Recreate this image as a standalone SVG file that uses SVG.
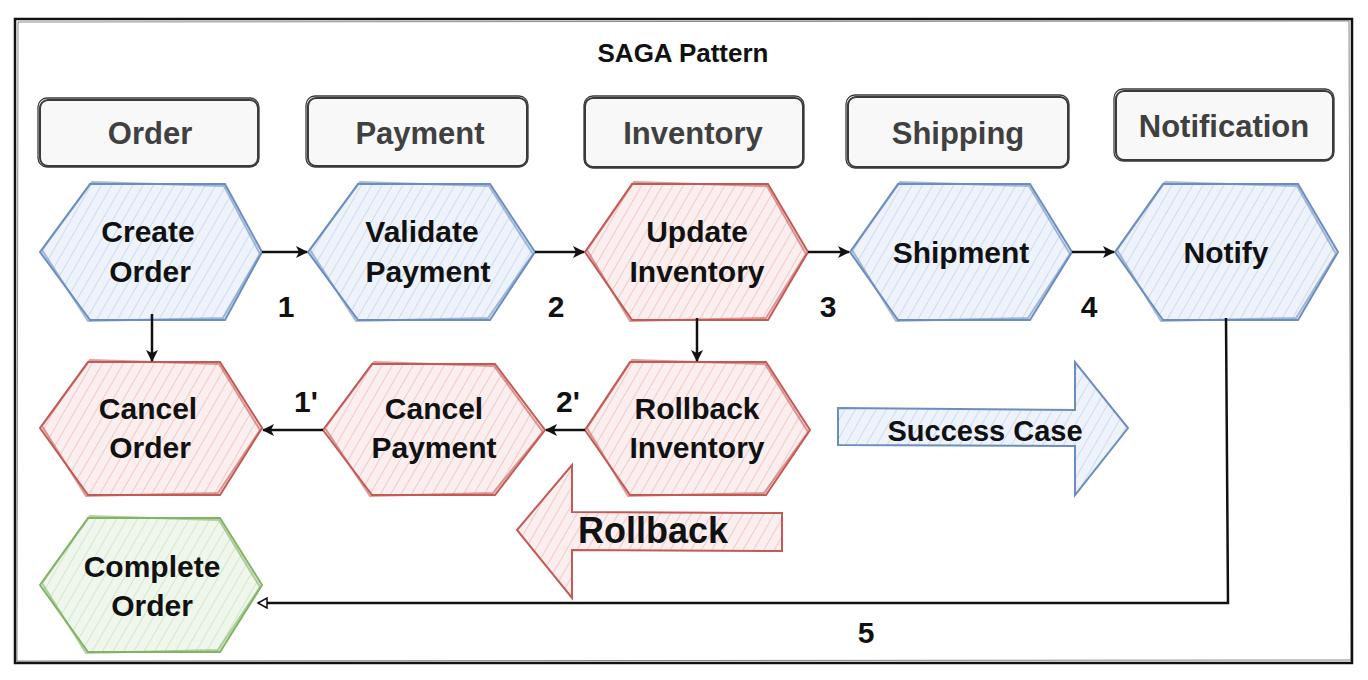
<svg xmlns="http://www.w3.org/2000/svg" width="1368" height="680" viewBox="0 0 1368 680">
<style>
.hdr rect{fill:#f8f8f8;stroke:#3a3a3a;stroke-width:2}
.hdr rect.s{fill:none;stroke-width:1.3}
.ht{font-family:"Liberation Sans",Arial,sans-serif;font-size:31px;font-weight:bold;fill:#404040;text-anchor:middle}
.nt{font-family:"Liberation Sans",Arial,sans-serif;font-size:30px;font-weight:bold;fill:#111;text-anchor:middle}
.lb{font-family:"Liberation Sans",Arial,sans-serif;font-size:30px;font-weight:bold;fill:#111;text-anchor:middle}
.blue .b{fill:#eef3fb}.blue .h{fill:url(#hb)}.blue .o{fill:none;stroke:#6c8ebf;stroke-width:2}
.red .b{fill:#fbeeee}.red .h{fill:url(#hr)}.red .o{fill:none;stroke:#c45a56;stroke-width:2}
.green .b{fill:#eff6ec}.green .h{fill:url(#hg)}.green .o{fill:none;stroke:#82b366;stroke-width:2}
.o2{opacity:0.6}
.ln{fill:none;stroke:#111;stroke-width:2.5}
</style>
<defs>
<pattern id="hb" patternUnits="userSpaceOnUse" width="9" height="9" patternTransform="rotate(30)"><line x1="0" y1="0" x2="0" y2="9" stroke="#b9cbe8" stroke-width="1.2"/></pattern>
<pattern id="hr" patternUnits="userSpaceOnUse" width="9" height="9" patternTransform="rotate(30)"><line x1="0" y1="0" x2="0" y2="9" stroke="#e8b2b0" stroke-width="1.2"/></pattern>
<pattern id="hg" patternUnits="userSpaceOnUse" width="9" height="9" patternTransform="rotate(30)"><line x1="0" y1="0" x2="0" y2="9" stroke="#c3dcb6" stroke-width="1.2"/></pattern>
<marker id="ah" markerWidth="12" markerHeight="12" refX="11" refY="6" orient="auto" markerUnits="userSpaceOnUse" viewBox="0 0 12 12"><path d="M0,0 L12,6 L0,12 L3,6 Z" fill="#111"/></marker>
<marker id="ao" markerWidth="12" markerHeight="12" refX="10" refY="6" orient="auto" markerUnits="userSpaceOnUse" viewBox="0 0 12 12"><path d="M1,1 L10,6 L1,11 Z" fill="#fff" stroke="#111" stroke-width="1.5"/></marker>
</defs>
<rect x="0" y="0" width="1368" height="680" fill="#fff"/>
<g id="frame">
<rect x="15" y="19" width="1337" height="644" fill="none" stroke="#111" stroke-width="2.5"/>
<path d="M18,22 L1349,21 L1351,660 L17,661 Z" fill="none" stroke="#111" stroke-width="1" opacity="0.5"/>
</g>
<text id="title" x="683" y="62" font-family="'Liberation Sans',Arial,sans-serif" font-size="26" font-weight="bold" fill="#111" text-anchor="middle">SAGA Pattern</text>

<g id="hdr-order" class="hdr"><rect x="40" y="100" width="218" height="66" rx="8"/><rect class="s" x="38" y="98" width="221" height="69" rx="9"/><text class="ht" x="150" y="144">Order</text></g>
<g id="hdr-payment" class="hdr"><rect x="308" y="98" width="219" height="68" rx="8"/><rect class="s" x="306" y="96" width="222" height="71" rx="9"/><text class="ht" x="420" y="144">Payment</text></g>
<g id="hdr-inventory" class="hdr"><rect x="585" y="98" width="218" height="69" rx="8"/><rect class="s" x="584" y="96" width="220" height="72" rx="9"/><text class="ht" x="693" y="144">Inventory</text></g>
<g id="hdr-shipping" class="hdr"><rect x="848" y="97" width="220" height="70" rx="8"/><rect class="s" x="846" y="95" width="223" height="73" rx="9"/><text class="ht" x="958" y="144">Shipping</text></g>
<g id="hdr-notification" class="hdr"><rect x="1116" y="91" width="217" height="69" rx="8"/><rect class="s" x="1114" y="89" width="220" height="72" rx="9"/><text class="ht" x="1224" y="137">Notification</text></g>

<g id="create-order" class="blue"><polygon class="b" points="40,252 90,184 225,184 262,252 225,320 90,320"/><polygon class="h" points="40,252 90,184 225,184 262,252 225,320 90,320"/><polygon class="o" points="40,252 90,184 225,184 262,252 225,320 90,320"/><polygon class="o o2" points="42,250 92,182 224,186 260,254 223,318 88,321"/><text class="nt" x="148" y="242">Create</text><text class="nt" x="150" y="282">Order</text></g>
<g id="validate-payment" class="blue"><polygon class="b" points="308,252 358,184 490,184 535,252 490,320 358,320"/><polygon class="h" points="308,252 358,184 490,184 535,252 490,320 358,320"/><polygon class="o" points="308,252 358,184 490,184 535,252 490,320 358,320"/><polygon class="o o2" points="310,250 360,182 489,186 533,254 488,318 356,321"/><text class="nt" x="422" y="242">Validate</text><text class="nt" x="428" y="282">Payment</text></g>
<g id="update-inventory" class="red"><polygon class="b" points="585,252 632,184 768,184 808,252 768,320 632,320"/><polygon class="h" points="585,252 632,184 768,184 808,252 768,320 632,320"/><polygon class="o" points="585,252 632,184 768,184 808,252 768,320 632,320"/><polygon class="o o2" points="587,250 634,182 767,186 806,254 766,318 630,321"/><text class="nt" x="697" y="242">Update</text><text class="nt" x="697" y="282">Inventory</text></g>
<g id="shipment" class="blue"><polygon class="b" points="850,252 898,184 1030,184 1072,252 1030,320 898,320"/><polygon class="h" points="850,252 898,184 1030,184 1072,252 1030,320 898,320"/><polygon class="o" points="850,252 898,184 1030,184 1072,252 1030,320 898,320"/><polygon class="o o2" points="852,250 900,182 1029,186 1070,254 1028,318 896,321"/><text class="nt" x="961" y="263">Shipment</text></g>
<g id="notify" class="blue"><polygon class="b" points="1115,252 1163,184 1298,184 1338,252 1298,320 1163,320"/><polygon class="h" points="1115,252 1163,184 1298,184 1338,252 1298,320 1163,320"/><polygon class="o" points="1115,252 1163,184 1298,184 1338,252 1298,320 1163,320"/><polygon class="o o2" points="1117,250 1165,182 1297,186 1336,254 1296,318 1161,321"/><text class="nt" x="1226" y="263">Notify</text></g>

<g id="cancel-order" class="red"><polygon class="b" points="40,428 88,362 220,362 262,428 220,495 88,495"/><polygon class="h" points="40,428 88,362 220,362 262,428 220,495 88,495"/><polygon class="o" points="40,428 88,362 220,362 262,428 220,495 88,495"/><polygon class="o o2" points="42,426 90,360 219,364 260,430 218,493 86,496"/><text class="nt" x="148" y="419">Cancel</text><text class="nt" x="150" y="458">Order</text></g>
<g id="cancel-payment" class="red"><polygon class="b" points="323,430 372,364 495,364 545,430 495,495 372,495"/><polygon class="h" points="323,430 372,364 495,364 545,430 495,495 372,495"/><polygon class="o" points="323,430 372,364 495,364 545,430 495,495 372,495"/><polygon class="o o2" points="325,428 374,362 494,366 543,432 493,493 370,496"/><text class="nt" x="434" y="419">Cancel</text><text class="nt" x="434" y="458">Payment</text></g>
<g id="rollback-inventory" class="red"><polygon class="b" points="585,430 630,362 766,362 810,430 766,495 630,495"/><polygon class="h" points="585,430 630,362 766,362 810,430 766,495 630,495"/><polygon class="o" points="585,430 630,362 766,362 810,430 766,495 630,495"/><polygon class="o o2" points="587,428 632,360 765,364 808,432 764,493 628,496"/><text class="nt" x="697" y="419">Rollback</text><text class="nt" x="697" y="458">Inventory</text></g>
<g id="complete-order" class="green"><polygon class="b" points="40,585 88,518 220,518 262,585 220,652 88,652"/><polygon class="h" points="40,585 88,518 220,518 262,585 220,652 88,652"/><polygon class="o" points="40,585 88,518 220,518 262,585 220,652 88,652"/><polygon class="o o2" points="42,583 90,516 219,520 260,587 218,650 86,653"/><text class="nt" x="152" y="577">Complete</text><text class="nt" x="152" y="616">Order</text></g>

<g id="success-case" class="blue"><polygon class="b" points="838,408 1075,410 1075,362 1128,428 1075,495 1075,446 838,445"/><polygon class="h" points="838,408 1075,410 1075,362 1128,428 1075,495 1075,446 838,445"/><polygon class="o" points="838,408 1075,410 1075,362 1128,428 1075,495 1075,446 838,445"/><text x="985" y="441" font-family="'Liberation Sans',Arial,sans-serif" font-size="29" font-weight="bold" fill="#111" text-anchor="middle">Success Case</text></g>
<g id="rollback" class="red"><polygon class="b" points="782,513 572,512 572,465 517,530 572,598 572,550 782,551"/><polygon class="h" points="782,513 572,512 572,465 517,530 572,598 572,550 782,551"/><polygon class="o" points="782,513 572,512 572,465 517,530 572,598 572,550 782,551"/><text x="653" y="543" font-family="'Liberation Sans',Arial,sans-serif" font-size="36" font-weight="bold" fill="#111" text-anchor="middle">Rollback</text></g>

<g id="connectors">
<line class="ln" x1="262" y1="252" x2="307" y2="252" marker-end="url(#ah)"/>
<line class="ln" x1="535" y1="252" x2="584" y2="252" marker-end="url(#ah)"/>
<line class="ln" x1="808" y1="252" x2="849" y2="252" marker-end="url(#ah)"/>
<line class="ln" x1="1072" y1="252" x2="1114" y2="252" marker-end="url(#ah)"/>
<line class="ln" x1="152" y1="314" x2="152" y2="361" marker-end="url(#ah)"/>
<line class="ln" x1="697" y1="318" x2="697" y2="361" marker-end="url(#ah)"/>
<line class="ln" x1="323" y1="430" x2="263" y2="430" marker-end="url(#ah)"/>
<line class="ln" x1="585" y1="430" x2="546" y2="430" marker-end="url(#ah)"/>
<polyline class="ln" points="1226,318 1228,603 258,603" marker-end="url(#ao)"/>
<text class="lb" x="286" y="317">1</text>
<text class="lb" x="556" y="317">2</text>
<text class="lb" x="828" y="317">3</text>
<text class="lb" x="1089" y="317">4</text>
<text class="lb" x="306" y="412">1'</text>
<text class="lb" x="568" y="412">2'</text>
<text class="lb" x="866" y="643">5</text>
</g>
</svg>
